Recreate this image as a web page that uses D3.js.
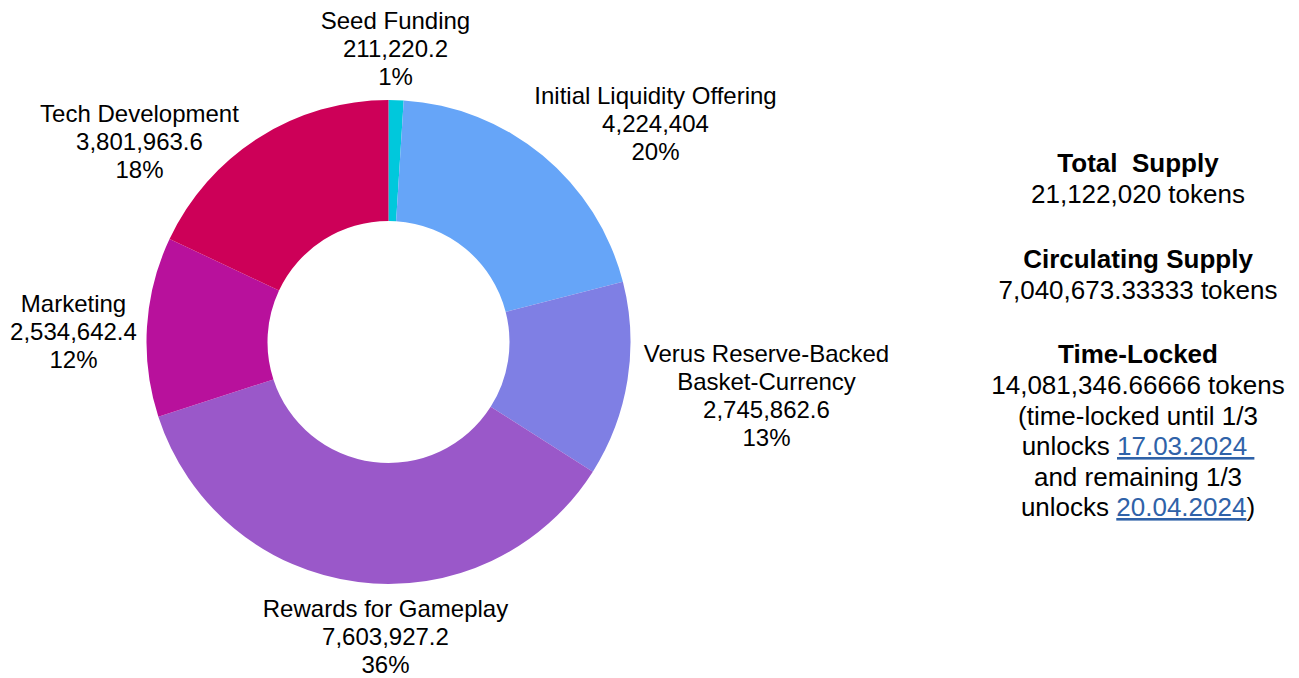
<!DOCTYPE html>
<html><head><meta charset="utf-8">
<script src="https://cdn.jsdelivr.net/npm/d3@7"></script>
<style>
html,body{margin:0;padding:0;background:#fff;}
svg{display:block;font-family:"Liberation Sans",Arial,sans-serif;}
</style></head>
<body>
<svg id="chart" width="1299" height="678"></svg>
<script>
// ---- data ----
const categories = ["Seed Funding","Initial Liquidity Offering","Verus Reserve-Backed Basket-Currency","Rewards for Gameplay","Marketing","Tech Development"];
const labelLines = [["Seed Funding"],["Initial Liquidity Offering"],["Verus Reserve-Backed","Basket-Currency"],["Rewards for Gameplay"],["Marketing"],["Tech Development"]];
const values = [211220.2, 4224404, 2745862.6, 7603927.2, 2534642.4, 3801963.6];
const valueLabels = ["211,220.2","4,224,404","2,745,862.6","7,603,927.2","2,534,642.4","3,801,963.6"];
const colors = ["#00c8dc","#66a5f8","#7f7fe4","#9a58c9","#b8119c","#cd0058"];
const summaryHeadings = ["Total  Supply","Circulating Supply","Time-Locked"];
const summaryLines = [["21,122,020 tokens"],["7,040,673.33333 tokens"],
  ["14,081,346.66666 tokens","(time-locked until 1/3","unlocks |17.03.2024 |","and remaining 1/3","unlocks |20.04.2024|)"]];

// ---- layout ----
const cx = 388.5, cy = 342, R = 242, r = 121;
const labelAnchor = [[7,-313],[267,-238],[378,20],[-3,275],[-315,-30],[-249,-220]]; // relative to center: x, first baseline
const lineH = 28;

const svg = d3.select("#chart");
const g = svg.append("g").attr("transform",`translate(${cx},${cy})`);
const pie = d3.pie().sort(null).value(d=>d);
const arcs = pie(values);
const arc = d3.arc().innerRadius(r).outerRadius(R);
const total = d3.sum(values);
const pct = d3.format(".0%");

g.selectAll("path").data(arcs).join("path")
  .attr("d",arc).attr("fill",(d,i)=>colors[i]);

const lab = svg.append("g");
arcs.forEach((a,i)=>{
  const lines = labelLines[i].concat([valueLabels[i], pct(values[i]/total)]);
  const t = lab.append("text").attr("text-anchor","middle").attr("font-size",24).attr("fill","#000");
  lines.forEach((s,k)=>{
    t.append("tspan").attr("x",cx+labelAnchor[i][0]).attr("y",cy+labelAnchor[i][1]+k*lineH).text(s);
  });
});

// summary panel
const px = 1138;
const headY = [172,268,363];
const sub = svg.append("g").attr("font-size",26).attr("text-anchor","middle");
summaryHeadings.forEach((h,i)=>{
  sub.append("text").attr("x",px).attr("y",headY[i]).attr("font-weight","bold").style("white-space","pre").text(h);
  summaryLines[i].forEach((s,k)=>{
    const t = sub.append("text").attr("x",px).attr("y",headY[i]+31+k*30.5).style("white-space","pre");
    const parts = s.split("|");
    parts.forEach((p,j)=>{
      const ts = t.append("tspan").text(p);
      if(j%2===1){ ts.attr("fill","#2f62a8").attr("text-decoration","underline"); }
    });
  });
});
</script>
</body></html>
